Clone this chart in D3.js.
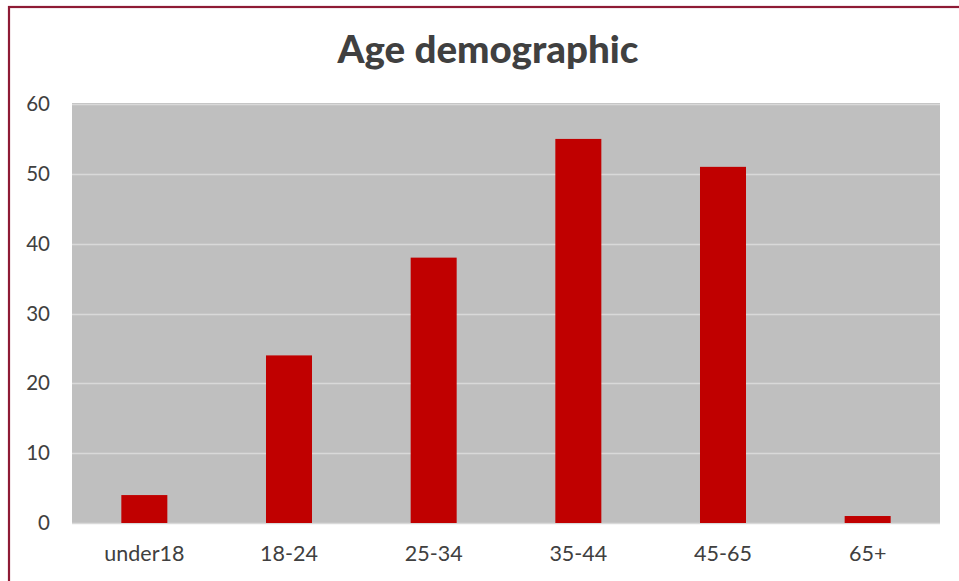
<!DOCTYPE html>
<html>
<head>
<meta charset="utf-8">
<script src="https://cdn.jsdelivr.net/npm/d3@7"></script>
<style>
  html, body { margin: 0; padding: 0; background: #ffffff; }
  svg { display: block; }
</style>
</head>
<body>
<svg id="chart" width="959" height="581"></svg>
<script>
// Respondents by age group
const categories = ["under18", "18-24", "25-34", "35-44", "45-65", "65+"];
const counts = [4, 24, 38, 55, 51, 1];
const yTicks = [0, 10, 20, 30, 40, 50, 60];
const titleText = "Age demographic";

const W = 959, H = 581;
const margin = { left: 72, right: 19, top: 104, bottom: 58 };
const font = "Lato, 'Open Sans', sans-serif";
const textColor = "#404040";

const svg = d3.select("#chart");

// Outer frame
svg.append("rect")
  .attr("x", 9).attr("y", 7)
  .attr("width", W + 20).attr("height", H + 20)
  .attr("fill", "#ffffff")
  .attr("stroke", "#8e1b35")
  .attr("stroke-width", 2.2);

const x = d3.scaleBand()
  .domain(categories)
  .range([margin.left, W - margin.right])
  .paddingInner(0.682)
  .paddingOuter(0.341);

const y = d3.scaleLinear()
  .domain([0, 60])
  .range([H - margin.bottom, margin.top]);

// Plot background
svg.append("rect")
  .attr("x", margin.left)
  .attr("y", y(60) - 1)
  .attr("width", W - margin.right - margin.left)
  .attr("height", y(0) - y(60) + 1)
  .attr("fill", "#bfbfbf");

// Horizontal gridlines
svg.append("g")
  .selectAll("line")
  .data(yTicks)
  .join("line")
  .attr("x1", margin.left)
  .attr("x2", W - margin.right)
  .attr("y1", d => Math.round(y(d)) + 0.5)
  .attr("y2", d => Math.round(y(d)) + 0.5)
  .attr("stroke", "#d9d9d9")
  .attr("stroke-width", 1.5);

// Bars
svg.append("g")
  .selectAll("rect")
  .data(categories.map((c, i) => ({ c, v: counts[i] })))
  .join("rect")
  .attr("x", d => x(d.c))
  .attr("y", d => y(d.v))
  .attr("width", x.bandwidth())
  .attr("height", d => y(0) - y(d.v))
  .attr("fill", "#c00000");

// Y axis labels
const yAxis = d3.axisLeft(y).tickValues(yTicks).tickSize(0).tickPadding(0);
const gy = svg.append("g")
  .attr("transform", `translate(${margin.left - 22},0)`)
  .call(yAxis);
gy.select(".domain").remove();
gy.selectAll("text")
  .attr("font-family", font)
  .attr("font-size", 20.5)
  .attr("fill", textColor);

// X axis labels
const xAxis = d3.axisBottom(x).tickSize(0).tickPadding(0);
const gx = svg.append("g")
  .attr("transform", `translate(0,${y(0) + 23})`)
  .call(xAxis);
gx.select(".domain").remove();
gx.selectAll("text")
  .attr("font-family", font)
  .attr("font-size", 21.5)
  .attr("fill", textColor);

// Title
svg.append("text")
  .attr("x", 488)
  .attr("y", 63)
  .attr("text-anchor", "middle")
  .attr("font-family", font)
  .attr("font-weight", 900)
  .attr("font-size", 38.5)
  .attr("fill", textColor)
  .text(titleText);
</script>
</body>
</html>
